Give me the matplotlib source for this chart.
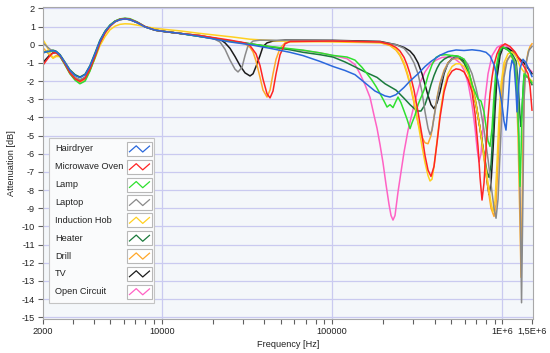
import numpy as np
import matplotlib
matplotlib.use('Agg')
import matplotlib.pyplot as plt
from matplotlib.patches import Rectangle
from matplotlib.ticker import FixedLocator, NullFormatter

plt.rcParams['font.family'] = ['Liberation Sans', 'DejaVu Sans']
plt.rcParams['axes.unicode_minus'] = False

# shared low-frequency grid (Hz), all devices behave alike here
freq_low = [2000, 2090, 2210, 2300, 2400, 2530, 2700, 2890, 3100, 3310, 3550, 3790, 4060,
            4340, 4650, 4970, 5320, 5690, 6090, 6510, 7160, 7980, 9140, 10460, 12810]

# Hairdryer
hair_low = [-0.45, -0.4, -0.35, -0.33, -0.38, -0.58, -0.98, -1.42, -1.7, -1.82, -1.65, -1.18, -0.5,
            0.2, 0.72, 1.05, 1.27, 1.38, 1.42, 1.38, 1.22, 0.98, 0.8, 0.72, 0.62]
hair_hz = [16790, 25180, 33000, 43250, 56680, 67530, 85030, 101400, 119200, 136500, 156200, 178800,
           204800, 219000, 237600, 264900, 287100, 319900, 351700, 381300, 430800, 479900, 534900,
           596000, 664100, 739800, 802400, 847000, 894000, 943600, 996100, 1023000, 1051000, 1080000,
           1110000, 1140000, 1172000, 1204000, 1220000, 1237000, 1271000, 1323000, 1378000, 1455000,
           1494000]
hair_db = [0.45, 0.15, 0.0, -0.2, -0.42, -0.6, -0.92, -1.2, -1.42, -1.65, -2.1, -2.55,
           -2.82, -2.88, -2.75, -2.35, -2.0, -1.6, -1.2, -0.92, -0.58, -0.38, -0.29,
           -0.32, -0.28, -0.33, -0.42, -0.62, -1.1, -2.0, -3.3, -4.2, -4.7, -3.3,
           -1.5, -0.85, -1.1, -2.6, -3.7, -2.7, -1.3, -0.8, -1.0, -1.5,
           -1.75]

# Microwave Oven
oven_low = [-1.15, -0.9, -0.6, -0.45, -0.45, -0.62, -1.05, -1.55, -1.88, -2.02, -1.85, -1.35, -0.65,
            0.1, 0.65, 1.02, 1.27, 1.4, 1.44, 1.4, 1.24, 1.0, 0.8, 0.72, 0.62]
oven_hz = [16790, 25180, 30840, 33000, 35790, 37780, 39340, 41530, 43250, 45030, 46920, 49520, 52970,
           56680, 101400, 191400, 219000, 237600, 250700, 264900, 275800, 287100, 303000, 319900,
           337700, 351700, 366300, 381300, 397100, 413600, 430800, 454800, 479900, 506800, 534900,
           564500, 596000, 629200, 664100, 691600, 720100, 739800, 760100, 780900, 802400, 824400,
           847000, 870200, 894000, 931100, 969400, 1037300, 1110000, 1188000, 1271000, 1341000,
           1416000, 1455000, 1494000]
oven_db = [0.5, 0.25, 0.1, -0.05, -0.5, -1.15, -1.9, -2.7, -2.93, -2.55, -1.6, -0.55, 0.05,
           0.18, 0.2, 0.15, 0.02, -0.15, -0.35, -0.7, -1.1, -1.6, -2.5, -3.7,
           -5.0, -6.1, -6.9, -7.25, -6.7, -5.4, -4.0, -2.6, -1.8, -1.45, -1.33,
           -1.37, -1.5, -1.9, -2.6, -3.8, -5.6, -7.3, -8.55, -7.6, -5.7, -4.0,
           -2.7, -1.8, -1.1, -0.5, -0.15, 0.05, -0.1, -0.4, -0.85, -1.2,
           -1.6, -2.3, -3.6]

# Lamp
lamp_low = [-0.45, -0.4, -0.37, -0.35, -0.42, -0.65, -1.1, -1.6, -1.95, -2.15, -2.0, -1.45, -0.7,
            0.1, 0.7, 1.07, 1.3, 1.42, 1.46, 1.43, 1.26, 1.0, 0.8, 0.72, 0.62]
lamp_hz = [16790, 25180, 33000, 43250, 56680, 67530, 85030, 101400, 122500, 136500, 150100, 160600,
           171800, 181300, 191400, 202000, 210400, 219000, 228100, 237600, 244100, 254200, 264900,
           275800, 287100, 295000, 307200, 319900, 333100, 346900, 366300, 386600, 408000, 430800,
           467100, 506800, 549500, 596000, 629200, 664100, 691600, 720100, 749800, 780900, 802400,
           824400, 847000, 870200, 894000, 918600, 956400, 996100, 1051000, 1110000, 1156000,
           1188000, 1220000, 1254000, 1271000, 1288000, 1306000, 1341000, 1416000, 1494000]
lamp_db = [0.45, 0.2, 0.05, -0.1, -0.22, -0.3, -0.45, -0.59, -0.68, -0.85, -1.25, -1.6,
           -1.96, -2.3, -2.69, -3.1, -3.43, -3.3, -3.46, -3.1, -2.88, -3.2, -3.65,
           -4.1, -4.62, -4.3, -3.88, -3.3, -2.9, -2.5, -1.7, -1.1, -0.7, -0.58,
           -0.55, -0.6, -0.62, -0.8, -1.3, -2.2, -2.6, -3.0, -3.1, -3.7, -4.5,
           -5.3, -5.6, -4.6, -2.8, -1.3, -0.4, -0.1, -0.2, -0.4, -0.8,
           -1.2, -2.5, -5.5, -7.8, -6.0, -3.5, -1.6, -1.8, -2.1]

# Laptop
laptop_low = [0.1, -0.05, -0.25, -0.35, -0.42, -0.62, -1.05, -1.5, -1.82, -1.95, -1.8, -1.3, -0.6,
              0.15, 0.7, 1.04, 1.27, 1.38, 1.42, 1.38, 1.22, 0.98, 0.8, 0.72, 0.62]
laptop_hz = [16790, 20010, 21990, 23540, 25180, 26940, 28060, 29610, 30840, 32120, 34380, 37780,
             101400, 191400, 237600, 264900, 287100, 303000, 319900, 337700, 351700, 366300, 376300,
             386600, 397100, 413600, 430800, 454800, 479900, 506800, 534900, 564500, 596000, 629200,
             664100, 700900, 739800, 780900, 824400, 858500, 894000, 918600, 943600, 969400, 996100,
             1023000, 1065700, 1110000, 1156000, 1204000, 1237000, 1271000, 1297000, 1323000,
             1341000, 1378000, 1435000, 1494000]
laptop_db = [0.5, 0.35, 0.15, -0.25, -0.85, -1.35, -1.5, -1.25, -0.6, -0.05, 0.2, 0.25,
             0.22, 0.15, 0.0, -0.2, -0.6, -1.0, -1.6, -2.6, -3.7, -4.6, -4.95,
             -4.7, -4.0, -3.0, -2.2, -1.5, -1.05, -0.8, -0.7, -0.68, -0.8, -1.1,
             -1.6, -2.4, -3.4, -4.7, -6.3, -7.7, -9.0, -9.55, -8.5, -6.0, -3.5,
             -1.8, -0.9, -0.6, -0.7, -1.2, -3.0, -8.0, -14.2, -8.0,
             -3.0, -1.0, -0.3, -0.1]

# Induction Hob
hob_low = [0.3, 0.0, -0.45, -0.75, -0.65, -0.65, -1.0, -1.45, -1.8, -1.95, -1.82, -1.38, -0.75,
           -0.05, 0.45, 0.82, 1.02, 1.12, 1.15, 1.14, 1.08, 0.99, 0.9, 0.84, 0.76]
hob_hz = [16790, 26230, 33000, 49520, 101400, 191400, 219000, 237600, 250700, 264900, 275800, 287100,
          303000, 319900, 337700, 351700, 366300, 376300, 386600, 397100, 413600, 430800, 454800,
          479900, 506800, 534900, 564500, 596000, 629200, 664100, 700900, 739800, 780900, 824400,
          858500, 882000, 906100, 931100, 956400, 982600, 1023000, 1080000, 1140000, 1204000,
          1271000, 1341000, 1416000, 1494000]
hob_db = [0.62, 0.42, 0.3, 0.2, 0.15, 0.1, 0.0, -0.25, -0.55, -1.0, -1.5, -2.1,
          -3.1, -4.3, -5.6, -6.5, -7.2, -7.5, -7.4, -6.7, -5.3, -3.8, -2.4,
          -1.6, -1.2, -1.05, -1.05, -1.2, -1.6, -2.3, -3.3, -4.6, -6.1, -7.6,
          -8.7, -9.2, -8.6, -6.5, -4.0, -2.2, -1.0, -0.5, -0.4, -0.6,
          -1.2, -1.5, -1.8, -2.0]

# Heater
heater_low = [-0.45, -0.38, -0.33, -0.3, -0.36, -0.55, -0.95, -1.38, -1.65, -1.78, -1.62, -1.15, -0.45,
              0.25, 0.75, 1.08, 1.3, 1.4, 1.43, 1.38, 1.22, 0.98, 0.8, 0.72, 0.62]
heater_hz = [16790, 25180, 33000, 43250, 56680, 67530, 85030, 101400, 119200, 136500, 156200, 183800,
             204800, 237600, 264900, 287100, 303000, 319900, 333100, 351700, 366300, 381300, 397100,
             413600, 430800, 454800, 479900, 506800, 534900, 564500, 596000, 629200, 664100, 700900,
             739800, 780900, 813300, 835500, 858500, 882000, 906100, 931100, 969400, 1009500,
             1080000, 1140000, 1204000, 1237000, 1271000, 1288000, 1306000, 1341000, 1416000,
             1494000]
heater_db = [0.45, 0.2, 0.05, -0.12, -0.28, -0.42, -0.55, -0.68, -0.95, -1.22, -1.5, -1.8,
             -2.15, -2.5, -2.95, -3.3, -3.5, -3.65, -3.65, -3.3, -2.8, -2.2, -1.7,
             -1.3, -1.0, -0.8, -0.68, -0.6, -0.62, -0.75, -1.0, -1.5, -2.3, -3.3,
             -4.6, -6.0, -7.0, -7.3, -6.6, -4.8, -2.8, -1.3, -0.4, -0.15,
             -0.3, -0.5, -0.9, -2.0, -4.0, -4.5, -3.5, -1.7, -1.8,
             -2.2]

# Drill
drill_low = [-0.15, -0.35, -0.6, -0.72, -0.6, -0.65, -1.05, -1.55, -1.9, -2.05, -1.9, -1.4, -0.7,
             0.05, 0.62, 1.0, 1.25, 1.38, 1.42, 1.38, 1.22, 0.98, 0.8, 0.72, 0.62]
drill_hz = [16790, 25180, 30840, 33000, 34380, 35790, 37780, 39340, 41530, 43250, 45030, 46920,
            49520, 52970, 56680, 101400, 191400, 219000, 237600, 250700, 264900, 275800, 287100,
            303000, 319900, 337700, 351700, 366300, 381300, 397100, 413600, 430800, 454800, 479900,
            506800, 534900, 564500, 596000, 629200, 664100, 700900, 739800, 780900, 824400, 858500,
            894000, 918600, 943600, 969400, 996100, 1037300, 1080000, 1125000, 1172000, 1204000,
            1237000, 1271000, 1288000, 1306000, 1323000, 1359000, 1416000, 1455000, 1494000]
drill_db = [0.5, 0.2, 0.05, -0.15, -0.4, -0.9, -1.8, -2.5, -2.88, -2.5, -1.6, -0.8,
            -0.2, 0.1, 0.15, 0.2, 0.12, -0.05, -0.3, -0.6, -1.1, -1.6, -2.2,
            -3.2, -4.3, -5.1, -5.4, -5.45, -5.0, -4.0, -2.9, -2.1, -1.4, -1.0,
            -0.8, -0.75, -0.8, -1.0, -1.4, -2.1, -3.2, -4.6, -6.3, -7.9, -9.0,
            -9.45, -8.8, -6.5, -4.0, -2.2, -1.1, -0.75, -0.62, -0.9, -2.0,
            -5.0, -10.0, -12.8, -9.0, -5.0, -1.5, -0.4, -0.1, 0.05]

# TV
tv_low = [-1.0, -0.8, -0.55, -0.45, -0.43, -0.6, -1.02, -1.5, -1.82, -1.95, -1.8, -1.3, -0.6,
          0.15, 0.7, 1.04, 1.27, 1.38, 1.42, 1.38, 1.22, 0.98, 0.8, 0.72, 0.62]
tv_hz = [16790, 21990, 23540, 25180, 26940, 28830, 30840, 33000, 34380, 35790, 37780, 39340,
         41530, 45030, 52970, 101400, 191400, 237600, 264900, 287100, 303000, 319900, 337700,
         351700, 366300, 381300, 397100, 413600, 430800, 454800, 479900, 506800, 534900, 564500,
         596000, 629200, 664100, 700900, 739800, 780900, 813300, 835500, 858500, 882000, 906100,
         931100, 969400, 1009500, 1080000, 1140000, 1204000, 1271000, 1341000, 1416000, 1494000]
tv_db = [0.5, 0.3, 0.1, -0.2, -0.65, -1.15, -1.55, -1.72, -1.6, -1.2, -0.6, -0.1,
         0.1, 0.2, 0.25, 0.24, 0.18, 0.0, -0.15, -0.35, -0.6, -1.0, -1.6,
         -2.2, -2.8, -3.3, -3.52, -3.2, -2.6, -1.6, -1.0, -0.78, -0.68, -0.7,
         -0.9, -1.4, -2.2, -3.3, -4.6, -6.1, -7.5, -8.25, -7.6, -5.8, -3.6,
         -1.8, -0.6, -0.15, -0.2, -0.35, -0.6, -0.8, -1.0, -1.3, -1.6]

# Open Circuit
open_low = [-0.45, -0.4, -0.36, -0.34, -0.4, -0.62, -1.08, -1.58, -1.92, -2.12, -1.95, -1.4, -0.65,
            0.12, 0.7, 1.06, 1.28, 1.4, 1.44, 1.4, 1.24, 0.99, 0.8, 0.72, 0.62]
open_hz = [16790, 25180, 33000, 43250, 56680, 67530, 85030, 101400, 122500, 136500, 146000, 156200,
           167200, 176600, 183800, 191400, 199300, 207600, 216200, 222100, 228100, 234400, 244100,
           254200, 264900, 279600, 295000, 311300, 328700, 351700, 376300, 408000, 442600, 479900,
           520600, 564500, 596000, 629200, 664100, 691600, 710500, 729900, 749800, 770400, 791400,
           824400, 870200, 931100, 996100, 1065700, 1140000, 1204000, 1271000, 1359000, 1494000]
open_db = [0.45, 0.2, 0.05, -0.1, -0.25, -0.32, -0.45, -0.6, -0.77, -1.1, -1.6, -2.2,
           -2.9, -3.9, -4.6, -5.5, -6.5, -7.7, -8.8, -9.4, -9.65, -9.4, -8.1,
           -7.0, -5.9, -4.7, -3.8, -2.9, -2.1, -1.5, -1.1, -0.85, -0.7, -0.68,
           -0.75, -1.0, -1.4, -2.1, -3.3, -4.6, -5.7, -6.45, -6.0, -4.5, -3.0,
           -1.6, -0.6, -0.15, 0.0, -0.1, -0.3, -0.6, -0.9, -1.1, -1.5]

names = ['Hairdryer', 'Microwave Oven', 'Lamp', 'Laptop', 'Induction Hob',
         'Heater', 'Drill', 'TV', 'Open Circuit']
colors = ['#2a68dc', '#ff2424', '#2fe02f', '#8a8a8a', '#ffd020',
          '#1b7a3c', '#ffa82a', '#1c1c1c', '#ff62c4']
series = [(hair_low, hair_hz, hair_db), (oven_low, oven_hz, oven_db),
          (lamp_low, lamp_hz, lamp_db), (laptop_low, laptop_hz, laptop_db),
          (hob_low, hob_hz, hob_db), (heater_low, heater_hz, heater_db),
          (drill_low, drill_hz, drill_db), (tv_low, tv_hz, tv_db),
          (open_low, open_hz, open_db)]

fig = plt.figure(figsize=(5.5, 3.53), dpi=100)
ax = fig.add_axes([0.0776, 0.0955, 0.892, 0.8855])
ax.set_facecolor('#f4f7fa')
ax.set_xscale('log')

# first series ends up on top
for i in reversed(range(len(names))):
    low, hz, db = series[i]
    ax.plot(freq_low + hz, low + db, color=colors[i], lw=1.1)

ax.set_xlim(2000, 1.52e6)
ax.set_ylim(-15.11, 2.09)

ax.xaxis.set_major_locator(FixedLocator([2000, 1e4, 1e5, 1e6, 1.5e6]))
ax.set_xticklabels(['2000', '10000', '100000', '1E+6', '1,5E+6'])
minor = [m * 10 ** e for e in (3, 4, 5) for m in range(2, 10) if m * 10 ** e > 2000]
ax.xaxis.set_minor_locator(FixedLocator(minor))
ax.xaxis.set_minor_formatter(NullFormatter())
ax.set_yticks(range(-15, 3))

ax.set_axisbelow(True)
ax.yaxis.grid(True, color='#cacaf0', lw=0.9)
for f in (1e4, 1e5, 1e6):
    ax.axvline(f, color='#cacaf0', lw=0.9, zorder=0.5)

ax.tick_params(which='both', direction='out', length=3.5, width=0.8,
               color='#606060', labelsize=6.6, labelcolor='#222222', pad=2)
for sp in ax.spines.values():
    sp.set_color('#a8a8a8')
    sp.set_linewidth(0.8)

ax.set_xlabel('Frequency [Hz]', fontsize=6.6, color='#222222', labelpad=3)
ax.set_ylabel('Attenuation [dB]', fontsize=6.6, color='#222222', labelpad=4)

# legend drawn by hand: label on the left, framed zigzag key on the right
ax.add_patch(Rectangle((0.0139, 0.0525), 0.213, 0.528, transform=ax.transAxes,
                       facecolor='#fafbfc', edgecolor='#c4c4c4', lw=0.8, zorder=5))
key_x = np.array([0.1, 0.37, 0.63, 0.9])
key_y = np.array([0.3, 0.72, 0.28, 0.7])
for i, name in enumerate(names):
    yc = 0.545 - i * 0.0571
    ax.text(0.0251, yc, name, transform=ax.transAxes, fontsize=6.6, color='#222222',
            ha='left', va='center', zorder=6)
    bx, bw, bh = 0.1718, 0.051, 0.045
    ax.add_patch(Rectangle((bx, yc - bh / 2), bw, bh, transform=ax.transAxes,
                           facecolor='white', edgecolor='#b8b8b8', lw=0.8, zorder=6))
    ax.plot(bx + bw * key_x, yc - bh / 2 + bh * key_y, transform=ax.transAxes,
            color=colors[i], lw=0.9, zorder=7, clip_on=False)

fig.savefig('out.png', dpi=100)
